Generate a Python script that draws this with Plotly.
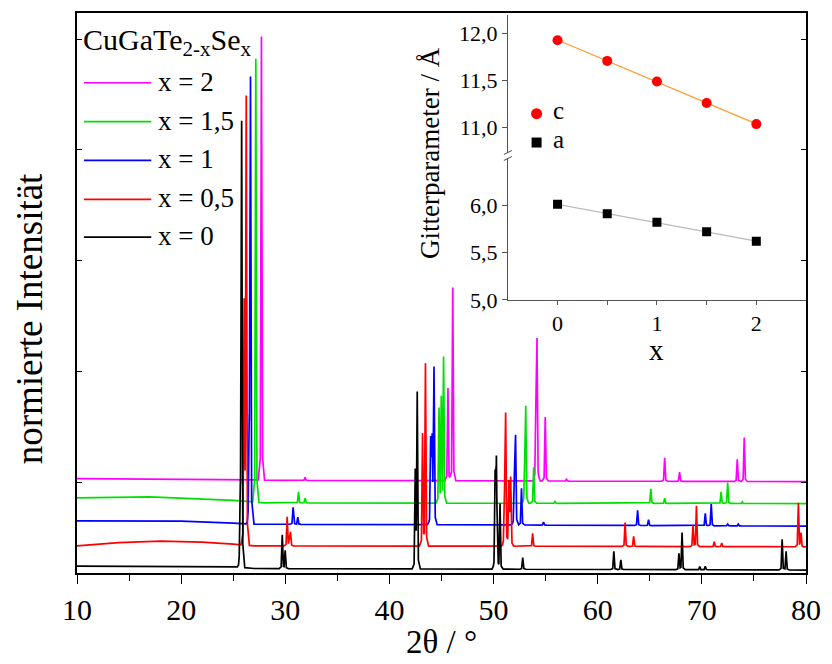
import numpy as np
import plotly.graph_objects as go

# ---------------------------------------------------------------------------
# XRD patterns of CuGaTe(2-x)Se(x): reflection positions (2θ / °) and
# relative intensities (% of the strongest reflection), plus baseline levels.
# ---------------------------------------------------------------------------
series_labels = ["x = 0", "x = 0,5", "x = 1", "x = 1,5", "x = 2"]
series_colors = ["#000000", "#FF0000", "#0000FF", "#00E000", "#FF00FF"]

pos_x0 = [25.69, 25.81, 29.71, 29.99, 42.48, 42.67, 50.15, 50.27, 50.62, 52.80,
          61.55, 62.22, 67.80, 68.10, 69.80, 70.33, 77.71, 78.09]
int_x0 = [15.0, 100.0, 7.6, 4.1, 21.5, 39.4, 21.3, 24.6, 14.8, 2.6,
          4.1, 2.2, 3.7, 8.4, 0.7, 0.8, 6.9, 4.2]

pos_x05 = [26.05, 26.25, 30.18, 30.40, 30.50, 43.18, 43.46, 51.05, 51.16, 51.47,
           51.64, 53.75, 62.63, 63.45, 69.15, 69.48, 71.19, 71.91, 79.27, 79.52]
int_x05 = [53.0, 100.0, 6.5, 2.0, 2.9, 25.3, 41.1, 11.0, 29.6, 14.4,
           15.2, 2.9, 5.4, 2.3, 4.8, 9.2, 1.1, 0.8, 9.9, 3.1]

pos_x1 = [26.54, 26.66, 30.75, 31.20, 43.96, 44.10, 44.28, 52.00, 52.11, 52.68,
          54.80, 63.83, 64.88, 70.33, 70.90, 72.48, 73.50]
int_x1 = [20.0, 100.0, 3.8, 1.6, 19.2, 18.7, 35.1, 10.6, 19.8, 8.3,
          0.7, 3.4, 1.3, 2.8, 4.9, 0.4, 0.4]

pos_x15 = [27.17, 31.27, 31.90, 44.76, 44.98, 45.20, 53.00, 53.09, 53.85, 55.90,
           65.10, 66.43, 71.85, 72.48, 73.88]
int_x15 = [100.0, 2.5, 1.1, 21.1, 23.1, 32.6, 9.4, 19.9, 8.1, 0.4,
           3.3, 1.2, 2.6, 4.7, 0.4]

pos_x2 = [27.71, 31.90, 45.62, 46.08, 54.07, 54.17, 54.96, 57.00, 66.43, 67.86,
          73.40, 74.07]
int_x2 = [100.0, 0.7, 20.9, 43.6, 17.1, 29.9, 14.4, 0.4, 5.3, 2.1,
          5.0, 9.9]

# baseline level (offset of each stacked pattern) at a few 2θ positions
base_t_x0 = [10, 25, 27, 45, 80]
base_y_x0 = [1.57, 1.46, 1.01, 0.90, 0.67]
base_t_x05 = [10, 14, 18, 22, 25, 27, 45, 80]
base_y_x05 = [6.13, 6.85, 7.19, 6.97, 6.52, 6.13, 6.07, 5.91]
base_t_x1 = [10, 20, 25, 27, 45, 80]
base_y_x1 = [11.75, 11.69, 11.24, 11.01, 10.90, 10.56]
base_t_x15 = [10, 17, 25, 28, 80]
base_y_x15 = [16.92, 17.15, 16.40, 15.80, 15.66]
base_t_x2 = [10, 25, 30, 80]
base_y_x2 = [21.28, 21.06, 20.90, 20.61]

# lattice parameters (inset)
x_content = [0.0, 0.5, 1.0, 1.5, 2.0]
lattice_c = [11.93, 11.71, 11.49, 11.26, 11.035]
lattice_a = [6.01, 5.91, 5.82, 5.72, 5.62]

# ---------------------------------------------------------------------------
FONT = "Liberation Serif"
PROFILE_DX = [-0.30, -0.11, 0.0, 0.11, 0.30]   # peak profile (°)
PROFILE_FR = [0.0, 0.05, 1.0, 0.05, 0.0]


def pattern(pos, inten, bt, by):
    pos = np.asarray(pos)
    inten = np.asarray(inten)
    xs = [np.asarray(bt, float)]
    for p in pos:
        xs.append(p + np.asarray(PROFILE_DX))
    x = np.unique(np.clip(np.concatenate(xs), 10, 80))
    y = np.interp(x, bt, by)
    for p, h in zip(pos, inten):
        y = y + h * np.interp(x - p, PROFILE_DX, PROFILE_FR, left=0, right=0)
    return x, y


datasets = [
    (pos_x0, int_x0, base_t_x0, base_y_x0),
    (pos_x05, int_x05, base_t_x05, base_y_x05),
    (pos_x1, int_x1, base_t_x1, base_y_x1),
    (pos_x15, int_x15, base_t_x15, base_y_x15),
    (pos_x2, int_x2, base_t_x2, base_y_x2),
]

fig = go.Figure()

# draw x = 2 first so that x = 0 ends up on top
for i in reversed(range(5)):
    xx, yy = pattern(*datasets[i])
    fig.add_trace(go.Scatter(x=xx, y=yy, mode="lines", name=series_labels[i],
                             line=dict(color=series_colors[i], width=1.7),
                             showlegend=False, hoverinfo="skip"))

# inset: linear fits + points
xc = np.asarray(x_content)
fit_c = np.polyval(np.polyfit(xc, lattice_c, 1), xc)
fit_a = np.polyval(np.polyfit(xc, lattice_a, 1), xc)
fig.add_trace(go.Scatter(x=xc, y=fit_c, mode="lines", xaxis="x2", yaxis="y3",
                         line=dict(color="#FF9A2E", width=1.2), showlegend=False))
fig.add_trace(go.Scatter(x=xc, y=fit_a, mode="lines", xaxis="x2", yaxis="y2",
                         line=dict(color="#BBBBBB", width=1.2), showlegend=False))
fig.add_trace(go.Scatter(x=xc, y=lattice_c, mode="markers", xaxis="x2", yaxis="y3",
                         marker=dict(symbol="circle", size=10, color="#FF0000"),
                         showlegend=False))
fig.add_trace(go.Scatter(x=xc, y=lattice_a, mode="markers", xaxis="x2", yaxis="y2",
                         marker=dict(symbol="square", size=9, color="#000000"),
                         showlegend=False))

# plot-area pixel geometry
PL, PR, PT, PB = 77, 813, 11, 573
W, H = PR - PL, PB - PT


def fx(px):
    return (px - PL) / W


def fy(py):
    return (PB - py) / H


shapes = []
annotations = []

# legend of the main plot
leg_y = [236, 198, 159, 120, 81]
for i in range(5):
    shapes.append(dict(type="line", xref="paper", yref="paper",
                       x0=fx(84), x1=fx(152), y0=fy(leg_y[i]), y1=fy(leg_y[i]),
                       line=dict(color=series_colors[i], width=1.7)))
    annotations.append(dict(text=series_labels[i], xref="paper", yref="paper",
                            x=fx(157), y=fy(leg_y[i] - 1), xanchor="left",
                            yanchor="middle", showarrow=False,
                            font=dict(family=FONT, size=27, color="black")))
annotations.append(dict(text="CuGaTe<sub>2-x</sub>Se<sub>x</sub>", xref="paper",
                        yref="paper", x=fx(81), y=fy(40), xanchor="left",
                        yanchor="middle", showarrow=False,
                        font=dict(family=FONT, size=30, color="black")))

# axis titles
annotations.append(dict(text="normierte Intensität", xref="paper", yref="paper",
                        x=fx(29), y=fy(318), textangle=-90, showarrow=False,
                        xanchor="center", yanchor="middle",
                        font=dict(family=FONT, size=37, color="black")))
annotations.append(dict(text="2θ / °", xref="paper", yref="paper",
                        x=fx(445), y=fy(642), showarrow=False,
                        xanchor="center", yanchor="middle",
                        font=dict(family=FONT, size=33, color="black")))
annotations.append(dict(text="Gitterparameter / Å", xref="paper", yref="paper",
                        x=fx(434), y=fy(152), textangle=-90, showarrow=False,
                        xanchor="center", yanchor="middle",
                        font=dict(family=FONT, size=27, color="black")))
annotations.append(dict(text="x", xref="paper", yref="paper",
                        x=fx(662), y=fy(349), showarrow=False,
                        xanchor="center", yanchor="middle",
                        font=dict(family=FONT, size=29, color="black")))

# inset legend
shapes.append(dict(type="circle", xref="paper", yref="paper",
                   xsizemode="pixel", ysizemode="pixel",
                   xanchor=fx(541), yanchor=fy(112), x0=-5.5, x1=5.5, y0=-5.5, y1=5.5,
                   fillcolor="#FF0000", line=dict(width=0)))
shapes.append(dict(type="rect", xref="paper", yref="paper",
                   xsizemode="pixel", ysizemode="pixel",
                   xanchor=fx(541), yanchor=fy(141), x0=-5, x1=5, y0=-5, y1=5,
                   fillcolor="#000000", line=dict(width=0)))
annotations.append(dict(text="c", xref="paper", yref="paper", x=fx(556), y=fy(109),
                        xanchor="left", yanchor="middle", showarrow=False,
                        font=dict(family=FONT, size=25, color="black")))
annotations.append(dict(text="a", xref="paper", yref="paper", x=fx(556), y=fy(138),
                        xanchor="left", yanchor="middle", showarrow=False,
                        font=dict(family=FONT, size=25, color="black")))

# axis break marks on the inset y axis
shapes.append(dict(type="rect", xref="paper", yref="paper",
                   x0=fx(510), x1=fx(514), y0=fy(157), y1=fy(151),
                   fillcolor="white", line=dict(width=0)))
for dy in (-3, 3):
    shapes.append(dict(type="line", xref="paper", yref="paper",
                       x0=fx(508), x1=fx(516), y0=fy(154 + dy + 2), y1=fy(154 + dy - 2),
                       line=dict(color="#444444", width=1)))

# inset domains
ins_x = [fx(512), 1.0]
low_dom = [fy(299), fy(154)]
up_dom = [fy(154), fy(13)]

fig.update_layout(
    width=832, height=664,
    margin=dict(l=PL, r=832 - PR, t=PT, b=664 - PB),
    paper_bgcolor="white", plot_bgcolor="rgba(0,0,0,0)",
    separators=", ",
    font=dict(family=FONT, color="black"),
    showlegend=False,
    shapes=shapes,
    annotations=annotations,
    xaxis=dict(range=[10, 80], dtick=10, tick0=10, showgrid=False, zeroline=False,
               showline=True, linecolor="black", linewidth=1.5, mirror=True,
               ticks="outside", ticklen=9, tickwidth=1.3, tickcolor="black",
               minor=dict(dtick=5, ticks="outside", ticklen=6, tickwidth=1.3,
                          tickcolor="black"),
               tickfont=dict(family=FONT, size=30, color="black")),
    yaxis=dict(range=[0, H / 4.45], showgrid=False, zeroline=False,
               showline=True, linecolor="black", linewidth=1.5, mirror="ticks",
               ticks="inside", ticklen=5, tickwidth=1, tickcolor="black",
               tickvals=[20.4, 45.4, 70.4, 95.4, 120.4], showticklabels=False),
    xaxis2=dict(domain=ins_x, anchor="y2", range=[-0.5, 2.5],
                tickvals=[0, 1, 2], showgrid=False, zeroline=False,
                showline=True, linecolor="#555555", linewidth=1,
                ticks="outside", ticklen=4, tickcolor="#555555",
                minor=dict(tickvals=[0.5, 1.5], ticks="outside", ticklen=4,
                           tickcolor="#555555"),
                tickfont=dict(family=FONT, size=22, color="black")),
    yaxis2=dict(domain=low_dom, anchor="x2", range=[5.0, 6.526],
                tickvals=[5.0, 5.5, 6.0], tickformat=".1f", showgrid=False,
                zeroline=False, showline=True, linecolor="#555555", linewidth=1,
                ticks="outside", ticklen=5, tickcolor="#555555",
                tickfont=dict(family=FONT, size=22, color="black")),
    yaxis3=dict(domain=up_dom, anchor="x2", range=[10.7, 12.2],
                tickvals=[11.0, 11.5, 12.0], tickformat=".1f", showgrid=False,
                zeroline=False, showline=True, linecolor="#555555", linewidth=1,
                ticks="outside", ticklen=5, tickcolor="#555555",
                tickfont=dict(family=FONT, size=22, color="black")),
)

fig.write_html("out.html")
